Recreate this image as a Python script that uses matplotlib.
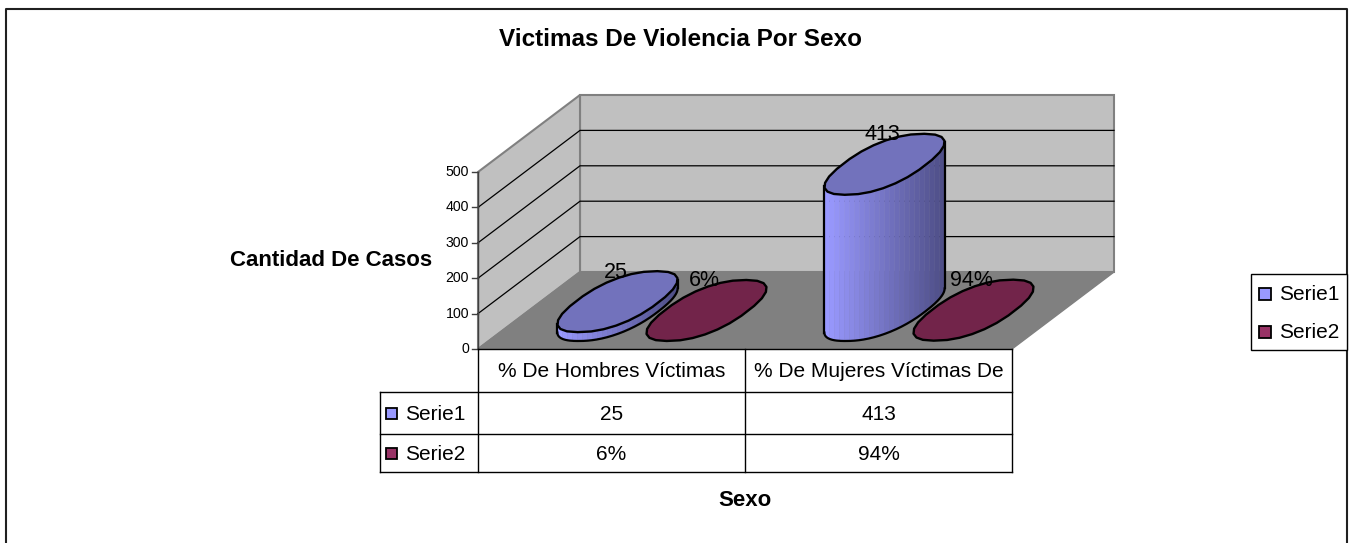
import numpy as np
import matplotlib
matplotlib.use('Agg')
from matplotlib import pyplot as plt
from matplotlib.patches import Polygon, Rectangle

plt.rcParams['font.family'] = ['Liberation Sans', 'DejaVu Sans']

W, H = 1354, 543

TITLE = 'Victimas De Violencia Por Sexo'
YLABEL = 'Cantidad De Casos'
XLABEL = 'Sexo'
categories = ['% De Hombres Víctimas', '% De Mujeres Víctimas De']
series_names = ['Serie1', 'Serie2']
serie1 = [25, 413]
serie2 = [0.06, 0.94]
serie1_labels = ['25', '413']
serie2_labels = ['6%', '94%']
yticks = [0, 100, 200, 300, 400, 500]

FACE = ['#9999FF', '#993366']
TOP = ['#7272BC', '#72244A']
DARK = ['#4F4F88', '#4A1A33']
WALL = '#C0C0C0'
FLOOR = '#808080'
EDGE = '#808080'

# caja 3D en pixeles
X0, X1 = 478, 1012
Y0, YSCALE = 349, 177 / 500
DX, DY = 102, 77

# centro del disco de cada serie / categoria
BASE_X = [[617.5, 884.5], [706.5, 973.5]]
BASE_Y = 310.5


def ypix(v):
    return Y0 - v * YSCALE


def disc(cx, cy, n=26):
    t = np.linspace(0, 2 * np.pi, n, endpoint=False) + 0.11
    c, s = np.cos(t), np.sin(t)
    c = np.sign(c) * np.abs(c) ** 0.86
    s = np.sign(s) * np.abs(s) ** 0.86
    return np.column_stack([cx + 42 * c + 39 * s, cy - 30.5 * s])


def mix(c1, c2, f):
    a = np.array(matplotlib.colors.to_rgb(c1))
    b = np.array(matplotlib.colors.to_rgb(c2))
    return a + (b - a) * f


def cylinder(ax, cx, value, i, z):
    h = value * YSCALE
    cy = BASE_Y
    if h > 1:
        # borde frontal de la base, de izquierda a derecha
        base = disc(cx, cy, 360)
        base = np.roll(base, -base[:, 0].argmin(), axis=0)
        front = base[:base[:, 0].argmax() + 1]
        xl, xr = front[0, 0], front[-1, 0]
        xs = np.linspace(xl, xr, 25)
        for k in range(24):
            xa = np.linspace(xs[k], xs[k + 1], 6)
            ya = np.interp(xa, front[:, 0], front[:, 1])
            pts = np.column_stack([np.r_[xa, xa[::-1]], np.r_[ya, ya[::-1] - h]])
            color = mix(FACE[i], DARK[i], k / 23)
            ax.add_patch(Polygon(pts, closed=True, fc=color, ec=color, lw=0.3, zorder=z))
        ax.plot(front[:, 0], front[:, 1], color='black', lw=1.6, zorder=z)
        ax.plot([xl, xl], [front[0, 1], front[0, 1] - h], color='black', lw=1.6, zorder=z)
        ax.plot([xr, xr], [front[-1, 1], front[-1, 1] - h], color='black', lw=1.6, zorder=z)
    ax.add_patch(Polygon(disc(cx, cy - h), closed=True, fc=TOP[i], ec='black', lw=1.7,
                         joinstyle='round', zorder=z + 0.5))


fig = plt.figure(figsize=(W / 100, H / 100), dpi=100)
ax = fig.add_axes([0, 0, 1, 1])
ax.set_xlim(0, W)
ax.set_ylim(H, 0)
ax.axis('off')

# marco, el borde inferior queda fuera de la imagen
ax.plot([5.5, 5.5, 1347, 1347], [H, 8.5, 8.5, H], color='#202020', lw=1.5, zorder=0)

# paredes y piso
top = ypix(yticks[-1])
ax.add_patch(Polygon([(X0 + DX, top - DY), (X1 + DX, top - DY), (X1 + DX, Y0 - DY), (X0 + DX, Y0 - DY)],
                     closed=True, fc=WALL, ec=EDGE, lw=1.5, zorder=1))
ax.add_patch(Polygon([(X0, top), (X0 + DX, top - DY), (X0 + DX, Y0 - DY), (X0, Y0)],
                     closed=True, fc=WALL, ec=EDGE, lw=1.5, zorder=1))
ax.add_patch(Polygon([(X0, Y0), (X0 + DX, Y0 - DY), (X1 + DX, Y0 - DY), (X1, Y0)],
                     closed=True, fc=FLOOR, ec=FLOOR, lw=1, zorder=1))

# grilla y ticks
for v in yticks:
    y = ypix(v)
    if 0 < v < yticks[-1]:
        ax.plot([X0, X0 + DX, X1 + DX], [y, y - DY, y - DY], color='black', lw=0.9, zorder=2)
    ax.plot([X0 - 6, X0], [y, y], color='#404040', lw=1, zorder=2)
    ax.text(X0 - 9, y, str(v), ha='right', va='center', fontsize=10.2, color='black')
ax.plot([X0, X0], [top, Y0], color='#404040', lw=1, zorder=2)

# cilindros
for c in range(len(categories)):
    cylinder(ax, BASE_X[0][c], serie1[c], 0, 4)
    cylinder(ax, BASE_X[1][c], serie2[c], 1, 5)

# etiquetas de datos
for c in range(len(categories)):
    ax.text(BASE_X[0][c] - 2, ypix(serie1[c]) - 68, serie1_labels[c], ha='center', va='center', fontsize=15.5, zorder=7)
    ax.text(BASE_X[1][c] - 2, ypix(serie2[c]) - 68, serie2_labels[c], ha='center', va='center', fontsize=15.5, zorder=7)

# tabla
ROWS = [349, 392, 434, 472]
COLS = [380, 478, 745, 1012]
for y in ROWS:
    ax.plot([COLS[0] if y > ROWS[0] else COLS[1], COLS[3]], [y, y], color='black', lw=1, zorder=3)
ax.plot([COLS[0], COLS[0]], [ROWS[1], ROWS[3]], color='black', lw=1, zorder=3)
for x in COLS[1:]:
    ax.plot([x, x], [ROWS[0], ROWS[3]], color='black', lw=1, zorder=3)

for c, name in enumerate(categories):
    xc = (COLS[c + 1] + COLS[c + 2]) / 2
    ax.text(xc, (ROWS[0] + ROWS[1]) / 2 + 1, name, ha='center', va='center', fontsize=15)
    ax.text(xc, (ROWS[1] + ROWS[2]) / 2 + 1, serie1_labels[c], ha='center', va='center', fontsize=15)
    ax.text(xc, (ROWS[2] + ROWS[3]) / 2 + 1, serie2_labels[c], ha='center', va='center', fontsize=15)

for r, name in enumerate(series_names):
    yc = (ROWS[r + 1] + ROWS[r + 2]) / 2 + 1
    ax.add_patch(Rectangle((386, yc - 6), 11, 11, fc=FACE[r], ec='black', lw=1.3, zorder=3))
    ax.text(405, yc, name, ha='left', va='center', fontsize=15)

# leyenda
ax.add_patch(Rectangle((1251, 274), 96, 76, fc='white', ec='black', lw=1, zorder=3))
for r, name in enumerate(series_names):
    yc = 294 + r * 38
    ax.add_patch(Rectangle((1259, yc - 6), 12, 12, fc=FACE[r], ec='black', lw=1.3, zorder=4))
    ax.text(1279, yc, name, ha='left', va='center', fontsize=15, zorder=4)

ax.text(680.5, 39, TITLE, ha='center', va='center', fontsize=17.5, fontweight='bold')
ax.text(331, 260, YLABEL, ha='center', va='center', fontsize=16, fontweight='bold')
ax.text(745, 501, XLABEL, ha='center', va='center', fontsize=16, fontweight='bold')

fig.savefig('out.png', dpi=100)
